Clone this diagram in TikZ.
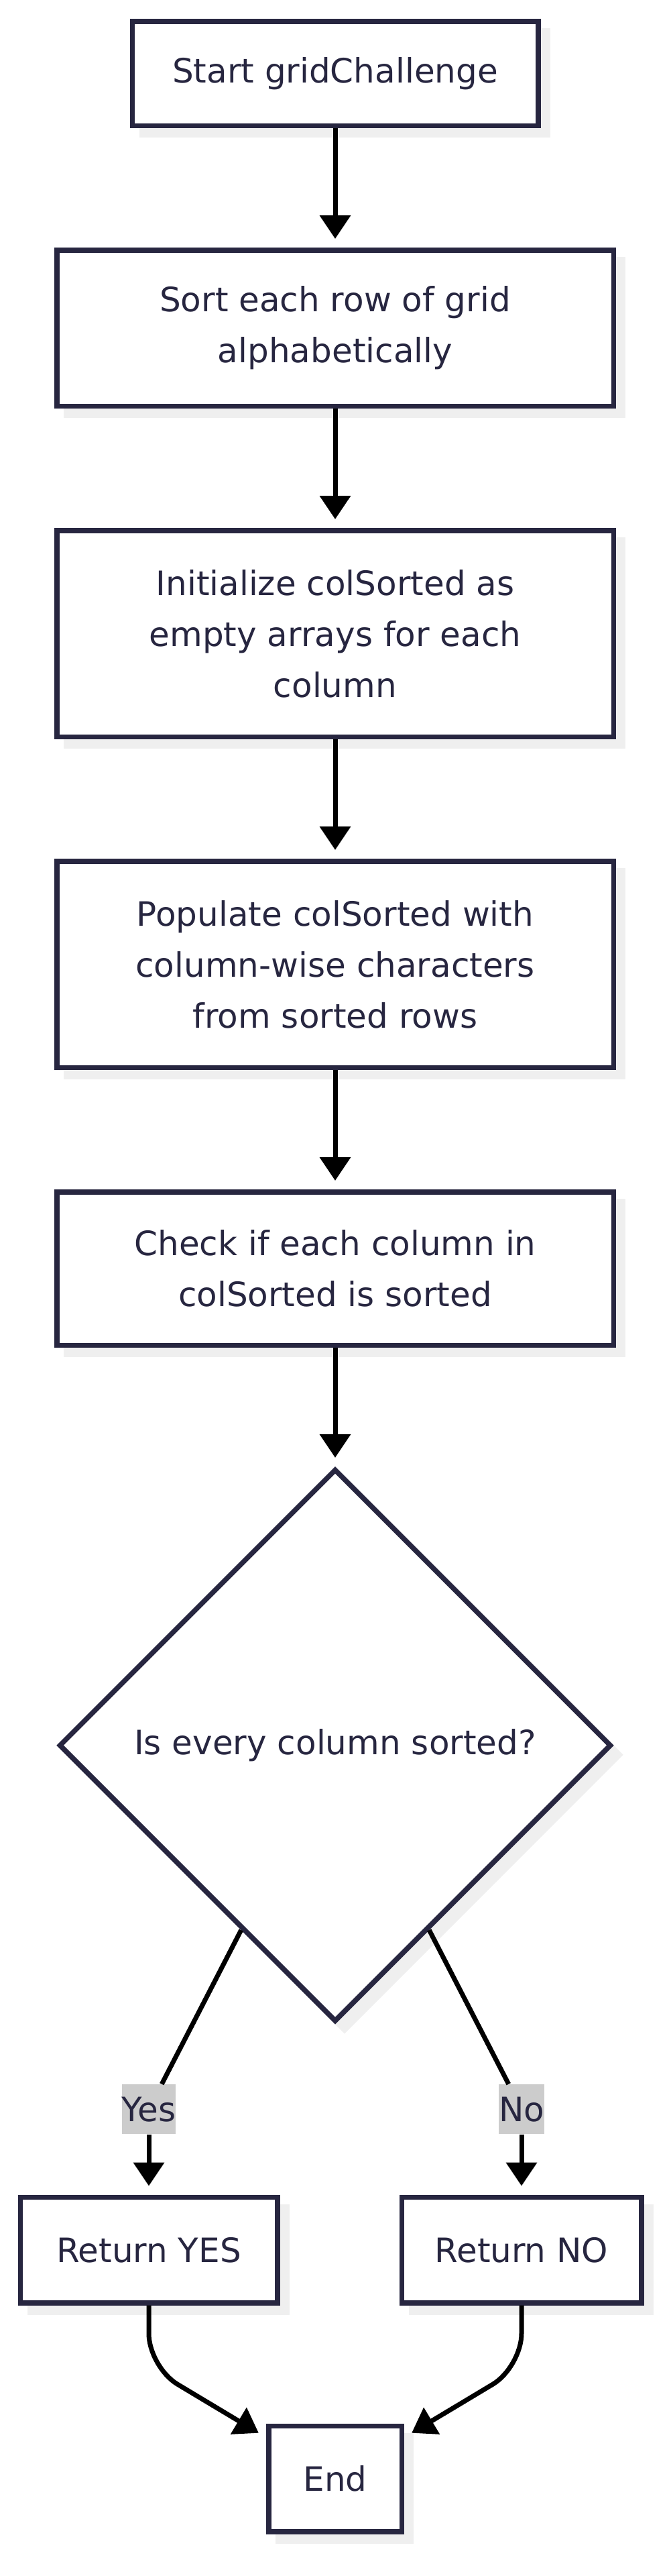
\documentclass[tikz,border=0pt]{standalone}
\usepackage{fontspec}
\setmainfont{DejaVu Sans}
\usetikzlibrary{shapes.geometric, arrows.meta, positioning, shadows}
\definecolor{ink}{HTML}{272640}
\definecolor{shade}{HTML}{EFEFEF}
\definecolor{lblgray}{HTML}{CCCCCC}
\tikzstyle{procbox} = [rectangle, minimum width=415.25pt, text centered, align=center, draw=ink, line width=3.75pt, fill=white, text=ink, drop shadow={shadow xshift=7pt, shadow yshift=-7pt, fill=shade, draw=shade, line width=3.75pt, opacity=1}]
\tikzstyle{decbox} = [diamond, minimum size=412pt, inner sep=0pt, align=center, draw=ink, line width=3.75pt, fill=white, text=ink, drop shadow={shadow xshift=7pt, shadow yshift=-7pt, fill=shade, draw=shade, line width=3.75pt, opacity=1}]
\tikzstyle{lbl} = [rectangle, fill=lblgray, text=ink, minimum height=37pt, inner xsep=0pt]
\tikzstyle{line} = [line width=3.5pt]
\tikzstyle{arrow} = [line width=3.5pt, -{Triangle[width=22.5pt,length=17.5pt]}, shorten >=6.5pt]

\begin{document}
\begin{tikzpicture}[node distance=89pt, font=\fontsize{25pt}{38pt}\selectfont]
        \useasboundingbox (0,0) rectangle (498.5pt,-1920pt);
        \node (start) [procbox, minimum width=302.75pt, minimum height=77.75pt] at (250pt,-54.75pt) {Start gridChallenge};
        \node (sort) [procbox, minimum height=116.25pt, below=of start] {Sort each row of grid\\alphabetically};
        \node (init) [procbox, minimum height=153.75pt, below=of sort] {Initialize colSorted as\\empty arrays for each\\column};
        \node (pop) [procbox, minimum height=153.75pt, below=of init] {Populate colSorted with\\column-wise characters\\from sorted rows};
        \node (check) [procbox, minimum height=114.25pt, below=of pop] {Check if each column in\\colSorted is sorted};
        \node (dec) [decbox, below=88.5pt of check] {Is every column sorted?};
        \node (retyes) [procbox, minimum width=191.75pt, minimum height=78.75pt, below=127pt of dec, xshift=-139pt] {Return YES};
        \node (retno) [procbox, minimum width=178.75pt, minimum height=78.75pt, below=127pt of dec, xshift=139pt] {Return NO};
        \node (end) [procbox, minimum width=99.25pt, minimum height=78.75pt, below=88pt of retyes, xshift=139pt] {End};
        \node (yeslbl) [lbl, above=45pt of retyes] {Yes};
        \node (nolbl) [lbl, above=45pt of retno] {No};

        \draw [arrow] (start) -- (sort);
        \draw [arrow] (sort) -- (init);
        \draw [arrow] (init) -- (pop);
        \draw [arrow] (pop) -- (check);
        \draw [arrow] (check) -- (dec);
        \draw [line] (dec.243) -- (yeslbl);
        \draw [arrow] (yeslbl) -- (retyes);
        \draw [line] (dec.297) -- (nolbl);
        \draw [arrow] (nolbl) -- (retno);
        \draw [arrow, rounded corners=25pt] (retyes.south) -- ++(0,-46pt) -- (end);
        \draw [arrow, rounded corners=25pt] (retno.south) -- ++(0,-46pt) -- (end);
    \end{tikzpicture}
\end{document}
